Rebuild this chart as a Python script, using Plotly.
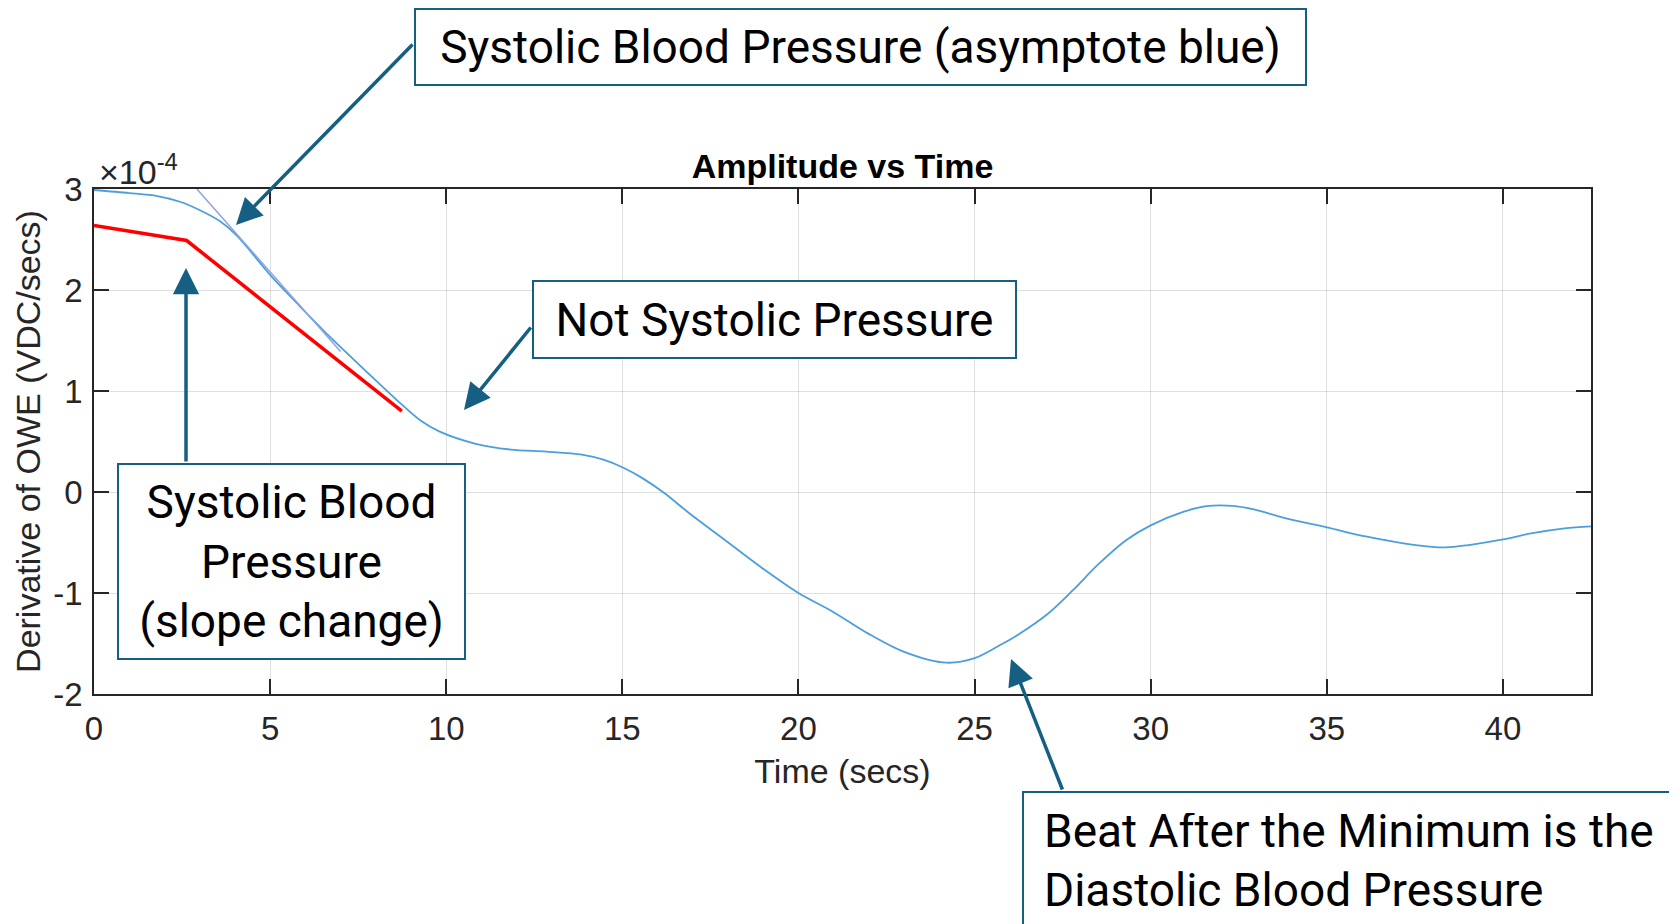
import plotly.graph_objects as go

# ---------------- data (values in units of 1e-4 VDC/secs) ----------------
time_s = [0.0, 1.0, 1.8, 2.44, 3.01, 3.58, 4.05, 5.05, 5.76, 6.7, 7.65, 8.6,
          9.26, 9.8, 10.81, 11.83, 12.84, 13.85, 14.46, 15.0, 15.58, 16.19,
          16.9, 17.91, 18.92, 20.0, 20.95, 21.97, 22.98, 24.2, 25.0, 25.7,
          26.2, 27.1, 27.8, 28.5, 29.31, 30.0, 30.92, 31.58, 32.33, 32.9,
          33.84, 35.0, 36.1, 37.52, 38.37, 39.03, 40.0, 40.8, 41.75, 42.5]
owe_deriv = [2.99, 2.96, 2.93, 2.874, 2.79, 2.68, 2.54, 2.13, 1.87, 1.535,
             1.22, 0.91, 0.71, 0.60, 0.48, 0.42, 0.40, 0.37, 0.32, 0.245,
             0.135, -0.01, -0.21, -0.475, -0.74, -1.0, -1.18, -1.40, -1.58,
             -1.69, -1.645, -1.52, -1.42, -1.20, -0.97, -0.72, -0.475, -0.33,
             -0.197, -0.14, -0.137, -0.17, -0.26, -0.35, -0.44, -0.525,
             -0.548, -0.525, -0.47, -0.41, -0.36, -0.34]

asym_x = [2.92, 7.0]
asym_y = [3.0, 1.39]

red_x = [0.0, 2.63, 8.74]
red_y = [2.64, 2.49, 0.80]

x_ticks = [0, 5, 10, 15, 20, 25, 30, 35, 40]
y_ticks = [-2, -1, 0, 1, 2, 3]
y_tick_labels = ["-2", "-1", "0", "1", "2", "3"]

title_text = "Amplitude vs Time"
x_title = "Time (secs)"
y_title = "Derivative of OWE (VDC/secs)"

# ---------------- layout geometry (page pixels) ----------------
OFF = 8                      # default page margin of the html body
W, H = 1677 - OFF, 924 - OFF
PL, PT, PW, PH = 94, 189, 1497, 505   # plot area in page pixels


def px(xp):
    return (xp - PL) / PW


def py(yp):
    return (PT + PH - yp) / PH


AX = "#262626"
ACC = "#156082"
MFONT = "Liberation Sans, Arial, sans-serif"
BFONT = "Roboto, sans-serif"

fig = go.Figure()
fig.add_trace(go.Scatter(x=time_s, y=owe_deriv, mode="lines",
                         line=dict(color="#4C9FDB", width=1.8, shape="spline", smoothing=0.9),
                         showlegend=False, hoverinfo="skip"))
fig.add_trace(go.Scatter(x=asym_x, y=asym_y, mode="lines",
                         line=dict(color="#8FA3E0", width=1.5),
                         showlegend=False, hoverinfo="skip"))
fig.add_trace(go.Scatter(x=red_x, y=red_y, mode="lines",
                         line=dict(color="#FF0000", width=3.5),
                         showlegend=False, hoverinfo="skip"))

axis_common = dict(showline=True, linecolor=AX, linewidth=1.5, mirror="ticks",
                   ticks="inside", ticklen=15, tickwidth=1.5, tickcolor=AX,
                   showgrid=True, gridcolor="rgba(38,38,38,0.15)", gridwidth=1,
                   zeroline=False, automargin=False,
                   tickfont=dict(family=MFONT, size=33, color=AX))

fig.update_xaxes(range=[0, 42.5], tickvals=x_ticks,
                 ticktext=[str(v) for v in x_ticks],
                 title=dict(text=x_title, font=dict(family=MFONT, size=34, color=AX), standoff=13),
                 ticklabelstandoff=5,
                 **axis_common)
fig.update_yaxes(range=[-2, 3], tickvals=y_ticks, ticktext=y_tick_labels,
                 title=dict(text=y_title, font=dict(family=MFONT, size=34, color=AX), standoff=2),
                 ticklabelstandoff=3,
                 **axis_common)

annotations = []
# exponent label
annotations.append(dict(text="×10<sup>-4</sup>", x=px(97), y=py(193), xref="paper", yref="paper",
                        xanchor="left", yanchor="bottom", showarrow=False,
                        font=dict(family=MFONT, size=34, color=AX)))


def box(text, left, top, right, bottom, align="center", pad=0):
    return dict(text=text, x=px(left), y=py(top), xref="paper", yref="paper",
                xanchor="left", yanchor="top", showarrow=False,
                width=right - left - 2 * pad - 2, height=bottom - top - 2 * pad - 2,
                align=align, valign="middle", borderpad=pad,
                bordercolor=ACC, borderwidth=2, bgcolor="white",
                font=dict(family=BFONT, size=46, color="black"))


def arrow(tip, tail):
    return dict(text="", x=px(tip[0]), y=py(tip[1]), xref="paper", yref="paper",
                ax=tail[0] - tip[0], ay=tail[1] - tip[1], axref="pixel", ayref="pixel",
                showarrow=True, arrowhead=2, arrowsize=1.5, arrowwidth=3.5,
                arrowcolor=ACC, standoff=0)


annotations.append(arrow((236, 225), (414, 43)))
annotations.append(arrow((464, 410), (532, 326)))
annotations.append(arrow((186, 268), (186, 463)))
annotations.append(arrow((1011, 659), (1063, 791)))

annotations.append(box("Systolic Blood Pressure (asymptote blue)", 414, 8, 1305, 84))
annotations.append(box("Not Systolic Pressure", 532, 280, 1015, 357))
annotations.append(box("Systolic Blood<br>Pressure<br>(slope change)", 117, 463, 464, 658))
annotations.append(box("Beat After the Minimum is the<br>Diastolic Blood Pressure",
                       1022, 791, 1676, 928, align="left", pad=20))

fig.update_layout(
    width=W, height=H,
    margin=dict(l=PL - OFF, r=W - (PL - OFF) - PW, t=PT - OFF, b=H - (PT - OFF) - PH,
                pad=0, autoexpand=False),
    paper_bgcolor="white", plot_bgcolor="white",
    title=dict(text="<b>" + title_text + "</b>", x=0.5, xref="paper", xanchor="center",
               y=1 - (166 - OFF) / H, yref="container", yanchor="middle",
               font=dict(family=MFONT, size=34, color="black")),
    annotations=annotations,
)

fig.write_html("out.html")
